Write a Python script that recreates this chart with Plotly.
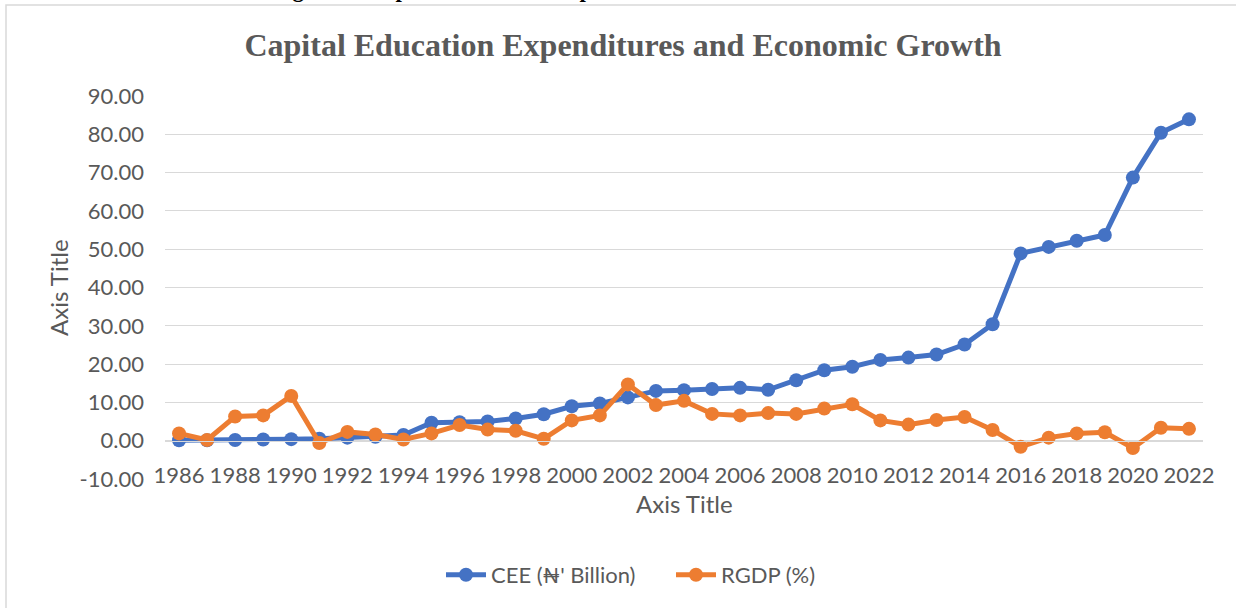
import plotly.graph_objects as go

# Years on the category axis
years = list(range(1986, 2023))

# Capital education expenditure, naira billion
cee = [0.1, 0.1, 0.2, 0.3, 0.4, 0.5, 0.8, 1.0, 1.5, 4.7,
       4.8, 5.0, 5.8, 6.9, 9.0, 9.7, 11.3, 13.0, 13.2, 13.5,
       13.8, 13.3, 15.8, 18.4, 19.3, 21.1, 21.7, 22.5, 25.1, 30.4,
       48.9, 50.6, 52.2, 53.7, 68.7, 80.4, 83.9]

# Real GDP growth, percent
rgdp = [1.9, 0.2, 6.3, 6.6, 11.7, -0.6, 2.3, 1.6, 0.3, 1.9,
        4.1, 2.9, 2.6, 0.5, 5.3, 6.6, 14.7, 9.3, 10.4, 7.0,
        6.6, 7.2, 7.0, 8.4, 9.5, 5.3, 4.2, 5.4, 6.2, 2.8,
        -1.6, 0.8, 1.9, 2.2, -1.9, 3.4, 3.1]

series_names = ["CEE (₦' Billion)", "RGDP (%)"]
x_ticks = years[::2]
y_ticks = list(range(-10, 100, 10))
# plain hyphen for negatives, two decimals
y_tick_text = [f"{v:.2f}" for v in y_ticks]

BLUE = "#4472C4"
ORANGE = "#ED7D31"
GREY_TEXT = "#595959"
GRID = "#D9D9D9"
FONT = "Lato"
TICK_SIZE = 22

fig = go.Figure()
fig.add_trace(go.Scatter(
    x=years, y=cee, name=series_names[0], mode="lines+markers",
    line=dict(color=BLUE, width=5), marker=dict(color=BLUE, size=14),
))
fig.add_trace(go.Scatter(
    x=years, y=rgdp, name=series_names[1], mode="lines+markers",
    line=dict(color=ORANGE, width=5), marker=dict(color=ORANGE, size=14),
))

W, H = 1236, 608
L, R, T, B = 165, 33, 96, 129
plot_h = H - T - B
plot_w = W - L - R


def py(pixel_y):
    """Pixel row to paper y."""
    return (H - B - pixel_y) / plot_h


def px(pixel_x):
    """Pixel column to paper x."""
    return (pixel_x - L) / plot_w


fig.update_layout(
    width=W, height=H,
    margin=dict(l=L, r=R, t=T, b=B, autoexpand=False),
    paper_bgcolor="white", plot_bgcolor="white",
    font=dict(family=FONT, color=GREY_TEXT, size=TICK_SIZE),
    title=dict(
        text="<b>Capital Education Expenditures and Economic Growth</b>",
        font=dict(family="Liberation Serif", size=32, color=GREY_TEXT),
        x=623 / W, xanchor="center", xref="container",
        y=1 - 45 / H, yanchor="middle", yref="container",
    ),
    showlegend=True,
    legend=dict(
        orientation="h", x=px(441), xanchor="left",
        y=py(575), yanchor="middle",
        font=dict(family=FONT, size=TICK_SIZE, color=GREY_TEXT),
        bgcolor="rgba(0,0,0,0)", itemwidth=40,
        entrywidth=175, entrywidthmode="pixels",
    ),
    xaxis=dict(
        range=[1985.5, 2022.5], tickvals=x_ticks, showgrid=False,
        zeroline=False, showline=True, linecolor=GRID, linewidth=1,
        anchor="free", position=0.1, ticks="",
        ticklabelstandoff=15,
        tickfont=dict(family=FONT, size=TICK_SIZE, color=GREY_TEXT),
    ),
    yaxis=dict(
        range=[-10, 90], tickvals=y_ticks, ticktext=y_tick_text,
        showgrid=True, gridcolor=GRID, gridwidth=1, zeroline=False,
        showline=False, ticks="", ticklabelstandoff=20,
        tickfont=dict(family=FONT, size=TICK_SIZE, color=GREY_TEXT),
    ),
    annotations=[
        dict(text="Axis Title", xref="paper", yref="paper",
             x=px(684), y=py(503), xanchor="center", yanchor="middle",
             showarrow=False, font=dict(family=FONT, size=24, color=GREY_TEXT)),
        dict(text="Axis Title", xref="paper", yref="paper", textangle=-90,
             x=px(58), y=py(288), xanchor="center", yanchor="middle",
             showarrow=False, font=dict(family=FONT, size=24, color=GREY_TEXT)),
        dict(text="<b>Figure 3: Capital Education Expenditures and Economic Growth</b>",
             xref="paper", yref="paper", x=px(592), y=py(4),
             xanchor="center", yanchor="bottom", showarrow=False,
             font=dict(family="Liberation Serif", size=23, color="black")),
    ],
    shapes=[
        # chart area frame
        dict(type="rect", xref="paper", yref="paper",
             x0=px(6), x1=px(1245), y0=py(620), y1=py(5),
             line=dict(color=GRID, width=1.5), fillcolor="rgba(0,0,0,0)",
             layer="below"),
    ],
)

fig.write_html("out.html")
